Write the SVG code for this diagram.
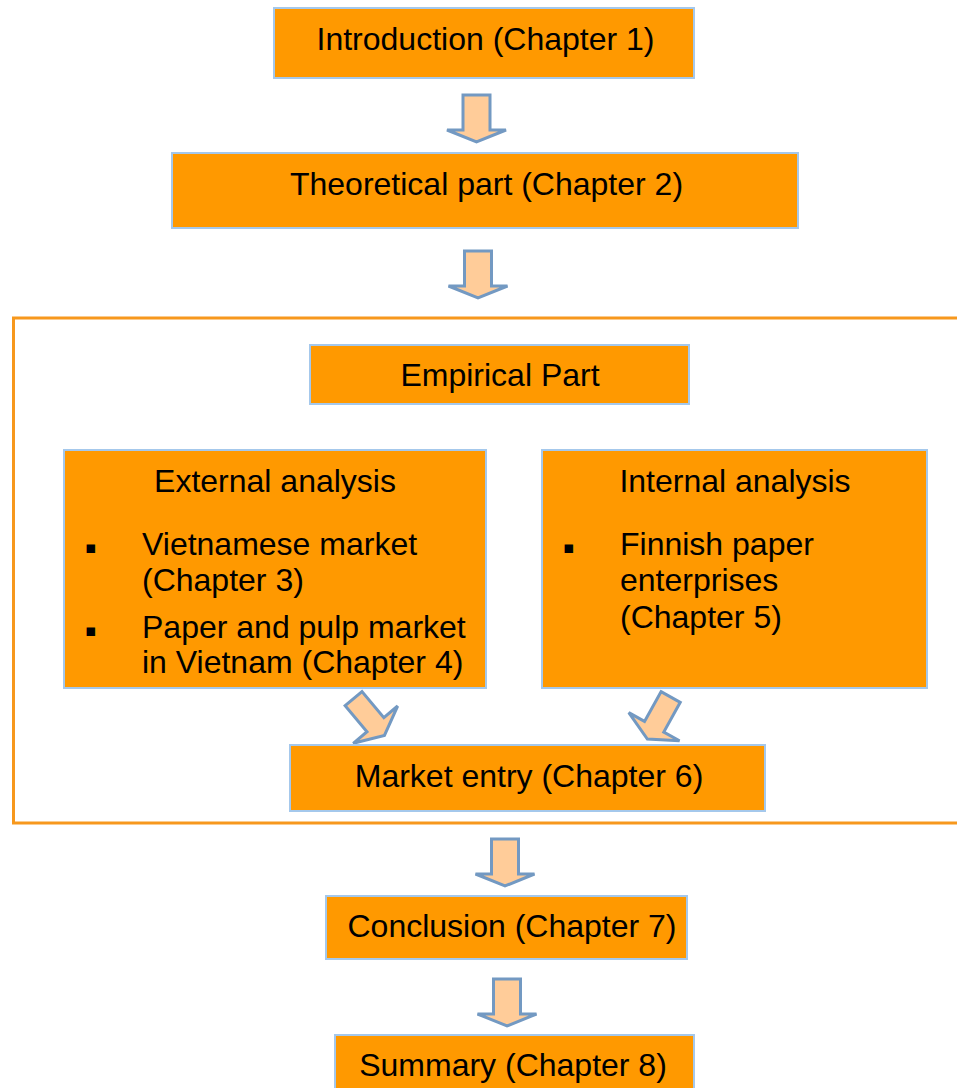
<svg xmlns="http://www.w3.org/2000/svg" width="957" height="1088" viewBox="0 0 957 1088">
<style>
.box{fill:#FF9900;stroke:#A4C8EC;stroke-width:2}
.t{font-family:"Liberation Sans",Arial,sans-serif;font-size:32px;fill:#000}
.c{text-anchor:middle}
.arr{fill:#FFCC99;stroke:#7399C2;stroke-width:3;stroke-linejoin:miter}
.frame{fill:none;stroke:#F7981D;stroke-width:3}
.b{font-family:"DejaVu Sans",sans-serif;font-size:17px;fill:#000}
</style>
<defs>
<path id="down" d="M-13.5,-23.5 H13.5 V11.5 H29.5 L0,23.5 L-29.5,11.5 H-13.5 Z"/>
<path id="diag" d="M-11,-24 H11 V10 H29 L0,24 L-29,10 H-11 Z"/>
</defs>
<rect class="frame" x="13.5" y="318" width="960" height="505"/>
<g id="connectors">
<use href="#down" class="arr" transform="translate(476.5,118.5)"/>
<use href="#down" class="arr" transform="translate(478,274.5)"/>
<use href="#diag" class="arr" transform="translate(369,717) rotate(-40)"/>
<use href="#diag" class="arr" transform="translate(659,718) rotate(29)"/>
<use href="#down" class="arr" transform="translate(505,862.5)"/>
<use href="#down" class="arr" transform="translate(507,1002.5)"/>
</g>
<g id="n1"><rect class="box" x="274" y="8" width="420" height="70"/><text class="t c" x="485.5" y="50">Introduction (Chapter 1)</text></g>
<g id="n2"><rect class="box" x="172" y="153" width="626" height="75"/><text class="t c" x="486.5" y="195">Theoretical part (Chapter 2)</text></g>
<g id="n3"><rect class="box" x="310" y="345" width="379" height="59"/><text class="t c" x="500" y="386">Empirical Part</text></g>
<g id="n4"><rect class="box" x="64" y="450" width="422" height="238"/>
<text class="t c" x="275" y="492">External analysis</text>
<text class="b" x="85" y="553">▪</text>
<text class="t" x="142" y="555">Vietnamese market</text>
<text class="t" x="142" y="591">(Chapter 3)</text>
<text class="b" x="85" y="636">▪</text>
<text class="t" x="142" y="638">Paper and pulp market</text>
<text class="t" x="142" y="673">in Vietnam (Chapter 4)</text>
</g>
<g id="n5"><rect class="box" x="542" y="450" width="385" height="238"/>
<text class="t c" x="735" y="492">Internal analysis</text>
<text class="b" x="563" y="553">▪</text>
<text class="t" x="620" y="555">Finnish paper</text>
<text class="t" x="620" y="591">enterprises</text>
<text class="t" x="620" y="628">(Chapter 5)</text>
</g>
<g id="n6"><rect class="box" x="290" y="745" width="475" height="66"/><text class="t c" x="529" y="787">Market entry (Chapter 6)</text></g>
<g id="n7"><rect class="box" x="326" y="896" width="361" height="63"/><text class="t c" x="512" y="937">Conclusion (Chapter 7)</text></g>
<g id="n8"><rect class="box" x="335" y="1035" width="359" height="60"/><text class="t c" x="513" y="1076">Summary (Chapter 8)</text></g>
</svg>
